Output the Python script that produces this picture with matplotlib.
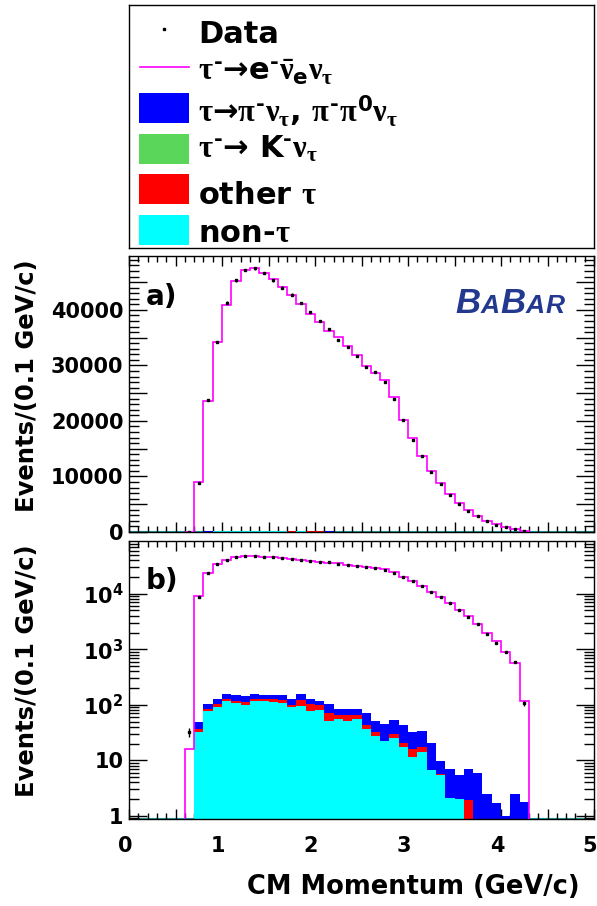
import numpy as np
import matplotlib
matplotlib.use('Agg')
import matplotlib.pyplot as plt
from matplotlib.patches import Rectangle
from matplotlib.transforms import ScaledTranslation
from matplotlib.ticker import MultipleLocator, FuncFormatter, LogLocator, NullFormatter, FixedLocator

plt.rcParams['font.family'] = 'DejaVu Sans'
plt.rcParams['font.weight'] = 'bold'
plt.rcParams['mathtext.fontset'] = 'custom'
plt.rcParams['mathtext.rm'] = 'Liberation Serif'
plt.rcParams['mathtext.it'] = 'Liberation Serif'
plt.rcParams['mathtext.bf'] = 'DejaVu Sans:bold'

# bin edges of CM momentum (GeV/c), 0.1 GeV/c wide
p_edges = [0.6, 0.7, 0.8, 0.9, 1.0, 1.1, 1.2, 1.3, 1.4, 1.5, 1.6, 1.7, 1.8, 1.9,
           2.0, 2.1, 2.2, 2.3, 2.4, 2.5, 2.6, 2.7, 2.8, 2.9, 3.0, 3.1, 3.2, 3.3,
           3.4, 3.5, 3.6, 3.7, 3.8, 3.9, 4.0, 4.1, 4.2, 4.3]

# tau -> e nu nu MC
mc_e = [16, 8950, 23660, 34230, 40840, 45170, 47200, 47450, 46670, 45470,
        44140, 42760, 41080, 39280, 37780, 36160, 35140, 33510, 31830, 29910,
        28650, 27390, 24260, 20240, 16880, 13630, 10930, 8770, 6850, 5170,
        3900, 2890, 1970, 1390, 910, 565, 117]

data = [32, 8770, 23720, 34170, 41320, 45290, 47210, 47450, 46670, 45290,
        44020, 42760, 41200, 39580, 38020, 36580, 34540, 33270, 31710, 29730,
        28830, 27030, 24020, 20180, 16640, 13690, 10870, 8710, 6730, 5110,
        3840, 2880, 1920, 1300, 880, 600, 107]

# backgrounds (stacked: non-tau, other tau, K, pi)
non_tau = [0, 32, 76, 91, 115, 107, 101, 118, 115, 112,
           110, 90, 97, 79, 82, 52, 56, 52, 56, 37,
           28, 22.4, 25.8, 17.7, 11.7, 14.4, 6.7, 5.5, 2.1, 2.0,
           0, 0, 0, 0, 0, 0, 0]
other_tau = [0, 5, 8, 13, 13, 11, 12, 10, 12, 13,
             13, 10, 26, 24, 18, 19, 10, 13, 10, 7,
             5, 0, 4.6, 3.2, 4.2, 3.1, 0, 0.2, 0, 0,
             1.9, 0, 0, 0, 0, 0, 0]
k_nu = [0, 0, 0, 0, 0, 1, 1.5, 0, 0, 0,
        0, 0, 0, 0, 0, 0, 0, 0, 0, 0,
        0, 0, 0, 0, 0, 0, 0, 0, 0, 0,
        0, 0, 0, 0, 0, 0, 0]
pi_nu = [0, 12, 19, 23, 30, 30, 30.5, 30, 26, 28,
         26, 25, 35, 24, 16, 33, 19, 20, 19, 27,
         18.5, 23.6, 23.3, 22.7, 16.1, 16.1, 14.2, 4.1, 4.8, 3.5,
         5.1, 5.9, 2.45, 1.74, 1.0, 2.45, 1.75]

edges = np.array(p_edges)
centers = 0.5 * (edges[:-1] + edges[1:])
widths = np.diff(edges)

MAGENTA = '#ff00ff'
BLUE = '#0000ff'
GREEN = '#5ad65a'
RED = '#ff0000'
CYAN = '#00ffff'

W, H = 597, 906
fig = plt.figure(figsize=(W / 100, H / 100), dpi=100)


def px_rect(l, t, r, b):
    return [l / W, 1 - b / H, (r - l) / W, (b - t) / H]


ax_leg = fig.add_axes(px_rect(129, 5, 594, 248))
ax_a = fig.add_axes(px_rect(129, 256, 594, 532))
ax_b = fig.add_axes(px_rect(129, 541, 594, 819))

# ---- legend box, drawn in pixel coords
ax_leg.set_xlim(129, 594)
ax_leg.set_ylim(248, 5)
ax_leg.set_xticks([])
ax_leg.set_yticks([])
for s in ax_leg.spines.values():
    s.set_linewidth(1.0)

ax_leg.plot([164], [29], 's', ms=1.6, color='k')
ax_leg.plot([140, 189], [67, 67], color=MAGENTA, lw=1.2)
for y0, c in [(93, BLUE), (134, GREEN), (174, RED), (215, CYAN)]:
    ax_leg.add_patch(Rectangle((139, y0), 50, 30, color=c, lw=0))

leg_fs = 22
tx = 198
mn = '\u2010'  # short bold minus for charges
ax_leg.text(tx, 43, 'Data', fontsize=leg_fs, va='baseline')
ax_leg.text(tx, 80.5, r'$\tau^{\mathbf{%s}}$→e$^{\mathbf{%s}}\bar{\nu}_{\mathbf{e}}\nu_{\tau}$' % (mn, mn),
            fontsize=leg_fs, va='baseline')
ax_leg.text(tx, 121.5, r'$\tau$→$\pi^{\mathbf{%s}}\nu_{\tau}$, $\pi^{\mathbf{%s}}\pi^{\mathbf{0}}\nu_{\tau}$' % (mn, mn),
            fontsize=leg_fs, va='baseline')
ax_leg.text(tx, 157, r'$\tau^{\mathbf{%s}}$→ K$^{\mathbf{%s}}\nu_{\tau}$' % (mn, mn),
            fontsize=leg_fs, va='baseline')
ax_leg.text(tx, 204, r'other $\tau$', fontsize=leg_fs, va='baseline')
ax_leg.text(tx, 242, r'non-$\tau$', fontsize=leg_fs, va='baseline')


def draw_panel(ax, log):
    bottom = np.zeros(len(centers))
    for vals, c in [(non_tau, CYAN), (other_tau, RED), (k_nu, GREEN), (pi_nu, BLUE)]:
        v = np.array(vals, dtype=float)
        ax.bar(edges[:-1], v, width=widths, bottom=bottom, align='edge',
               color=c, linewidth=0, zorder=2)
        bottom = bottom + v
    base = 0.5 if log else 0
    ax.stairs(mc_e, edges, baseline=base, color=MAGENTA, lw=1.2, zorder=3)
    d = np.array(data, dtype=float)
    ax.errorbar(centers, d, yerr=np.sqrt(d), fmt='s', ms=2.0, color='k',
                elinewidth=1.0, capsize=0, zorder=4)
    ax.axhline(ax.get_ylim()[0] if log else 0, color='#22aaaa', lw=1.5, zorder=1)
    ax.set_xlim(0, 5)
    ax.xaxis.set_major_locator(MultipleLocator(0.5))
    ax.xaxis.set_minor_locator(MultipleLocator(0.1))
    ax.xaxis.set_major_formatter(FuncFormatter(
        lambda v, p: '%d' % round(v) if abs(v - round(v)) < 1e-6 else ''))
    ax.tick_params(which='both', direction='in', top=True, right=True, width=1.0)
    ax.tick_params(axis='x', which='major', length=7.5)
    ax.tick_params(axis='x', which='minor', length=4)
    ax.tick_params(axis='y', which='major', length=13, pad=4)
    ax.tick_params(axis='y', which='minor', length=7)
    ax.tick_params(axis='both', labelsize=15)
    for s in ax.spines.values():
        s.set_linewidth(1.0)


# ---- panel a (linear)
ax_a.set_ylim(0, 49700)
draw_panel(ax_a, False)
ax_a.yaxis.set_major_locator(MultipleLocator(5000))
ax_a.yaxis.set_minor_locator(MultipleLocator(1000))
ax_a.yaxis.set_major_formatter(FuncFormatter(
    lambda v, p: '%d' % v if int(round(v)) % 10000 == 0 else ''))
ax_a.tick_params(axis='x', labelbottom=False)

# ---- panel b (log)
ax_b.set_yscale('log')
ax_b.set_ylim(0.88, 8.9e4)
draw_panel(ax_b, True)
ax_b.yaxis.set_major_locator(FixedLocator([1, 10, 100, 1000, 10000]))
ax_b.yaxis.set_minor_locator(LogLocator(base=10, subs=np.arange(2, 10)))
ax_b.yaxis.set_minor_formatter(NullFormatter())
ylab = {1: '1', 10: '10', 100: r'$\mathbf{10^{2}}$', 1000: r'$\mathbf{10^{3}}$',
        10000: r'$\mathbf{10^{4}}$'}
ax_b.yaxis.set_major_formatter(FuncFormatter(lambda v, p: ylab.get(int(round(v)), '')))
ax_b.tick_params(axis='x', pad=12)

# ROOT puts x labels a few pixels left of the ticks
shift = ScaledTranslation(-4 / 100, 0, fig.dpi_scale_trans)
for lab in ax_b.get_xticklabels():
    lab.set_transform(lab.get_transform() + shift)

# panel labels and logo
fig.text(146 / W, 1 - 305 / H, 'a)', fontsize=20, va='baseline')
fig.text(146 / W, 1 - 589 / H, 'b)', fontsize=20, va='baseline')

logo_c = '#22398f'
fig.canvas.draw()
renderer = fig.canvas.get_renderer()
xp = 455
for ch, fs in [('B', 25), ('A', 19), ('B', 25), ('A', 19), ('R', 19)]:
    t = fig.text(xp / W, 1 - 313 / H, ch, fontsize=fs, color=logo_c, style='italic',
                 family='Liberation Sans', va='baseline')
    xp = t.get_window_extent(renderer).x1 + 0.5

# axis titles
for top in (259, 544):
    fig.text(27 / W, 1 - top / H, 'Events/(0.1 GeV/c)', rotation=90, fontsize=17.5,
             ha='center', va='top')
fig.text(580 / W, 1 - 887 / H, 'CM Momentum (GeV/c)', fontsize=18.5, ha='right', va='center')

fig.savefig('out.png', dpi=100)
